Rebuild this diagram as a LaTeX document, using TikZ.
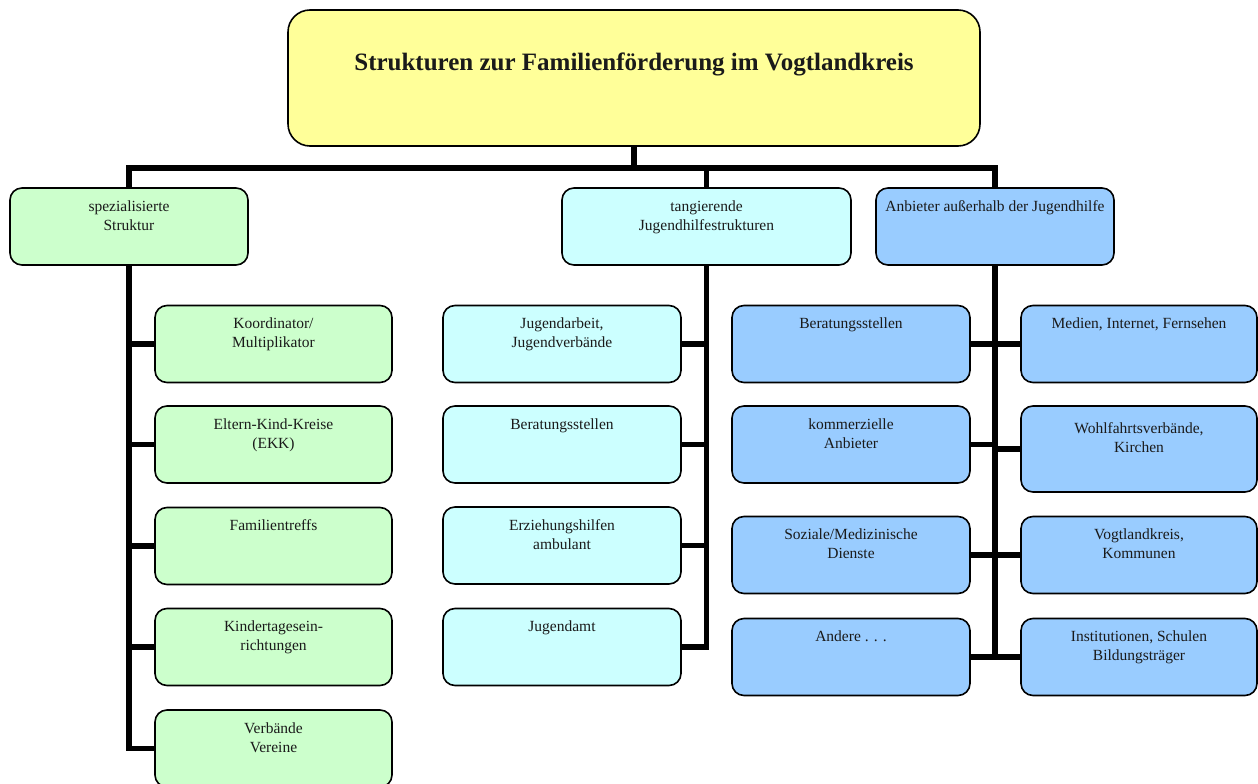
\documentclass[tikz,border=0pt]{standalone}
\usepackage{fontspec}
\setmainfont{Liberation Serif}
\usetikzlibrary{backgrounds}
\definecolor{ttlfill}{HTML}{FFFF99}
\definecolor{grfill}{HTML}{CCFFCC}
\definecolor{cyfill}{HTML}{CCFFFF}
\definecolor{blfill}{HTML}{99CCFF}
\definecolor{txtcol}{HTML}{1A1A1A}
\tikzset{
  boxbase/.style={draw=black, line width=1.6pt, rounded corners=12pt, inner sep=0pt, minimum height=77pt},
  gbox/.style={boxbase, fill=grfill, minimum width=237pt},
  cbox/.style={boxbase, fill=cyfill, minimum width=238pt},
  bbox/.style={boxbase, fill=blfill, minimum width=238pt},
  txt/.style={anchor=north, inner sep=0pt, align=center, text=txtcol, font=\fontsize{15.5}{19}\selectfont},
  conn/.style={draw=black, line width=5.5pt, line join=miter}
}
\begin{document}
\begin{tikzpicture}[x=1pt,y=-1pt]
\useasboundingbox (0,0) rectangle (1258,784);
\coordinate (bus) at (0,168);
% title
\node[draw=black, line width=1.6pt, rounded corners=22pt, fill=ttlfill, minimum width=692pt, minimum height=136pt, inner sep=0pt] (title) at (634,78) {};
\node[anchor=north, inner sep=0pt, text=txtcol, font=\fontsize{25}{30}\selectfont\bfseries] (titlet) at ([yshift=-43pt]title.north) {Strukturen zur Familienförderung im Vogtlandkreis};
% group boxes
\node[gbox, minimum width=238pt] (g1) at (129,226.5) {};
\node[txt] (g1t) at ([yshift=-13pt]g1.north) {spezialisierte\\Struktur};
\node[cbox, minimum width=289pt] (g2) at (706.5,226.5) {};
\node[txt] (g2t) at ([yshift=-13pt]g2.north) {tangierende\\Jugendhilfestrukturen};
\node[bbox] (g3) at (995,226.5) {};
\node[txt] (g3t) at ([yshift=-13pt]g3.north) {Anbieter außerhalb der Jugendhilfe};
% left children
\node[gbox] (k1) at (273.5,344) {};
\node[txt] (k1t) at ([yshift=-13pt]k1.north) {Koordinator/\\Multiplikator};
\node[gbox] (k2) at (273.5,444.5) {};
\node[txt] (k2t) at ([yshift=-13pt]k2.north) {Eltern-Kind-Kreise\\(EKK)};
\node[gbox] (k3) at (273.5,546) {};
\node[txt] (k3t) at ([yshift=-13pt]k3.north) {Familientreffs};
\node[gbox] (k4) at (273.5,647) {};
\node[txt] (k4t) at ([yshift=-13pt]k4.north) {Kindertagesein-\\richtungen};
\node[gbox] (k5) at (273.5,748.5) {};
\node[txt] (k5t) at ([yshift=-13pt]k5.north) {Verbände\\Vereine};
% middle children
\node[cbox] (m1) at (562,344) {};
\node[txt] (m1t) at ([yshift=-13pt]m1.north) {Jugendarbeit,\\Jugendverbände};
\node[cbox] (m2) at (562,444.5) {};
\node[txt] (m2t) at ([yshift=-13pt]m2.north) {Beratungsstellen};
\node[cbox] (m3) at (562,545.5) {};
\node[txt] (m3t) at ([yshift=-13pt]m3.north) {Erziehungshilfen\\ambulant};
\node[cbox] (m4) at (562,647) {};
\node[txt] (m4t) at ([yshift=-13pt]m4.north) {Jugendamt};
% right, left column
\node[bbox] (a1) at (851,344) {};
\node[txt] (a1t) at ([yshift=-13pt]a1.north) {Beratungsstellen};
\node[bbox] (a2) at (851,444.5) {};
\node[txt] (a2t) at ([yshift=-13pt]a2.north) {kommerzielle\\Anbieter};
\node[bbox] (a3) at (851,555) {};
\node[txt] (a3t) at ([yshift=-13pt]a3.north) {Soziale/Medizinische\\Dienste};
\node[bbox] (a4) at (851,657) {};
\node[txt] (a4t) at ([yshift=-13pt]a4.north) {Andere . . .};
% right, right column
\node[bbox, minimum width=236pt] (b1) at (1139,344) {};
\node[txt] (b1t) at ([yshift=-13pt]b1.north) {Medien, Internet, Fernsehen};
\node[bbox, minimum width=236pt, minimum height=86pt] (b2) at (1139,449) {};
\node[txt] (b2t) at ([yshift=-17pt]b2.north) {Wohlfahrtsverbände,\\Kirchen};
\node[bbox, minimum width=236pt] (b3) at (1139,555) {};
\node[txt] (b3t) at ([yshift=-13pt]b3.north) {Vogtlandkreis,\\Kommunen};
\node[bbox, minimum width=236pt] (b4) at (1139,657) {};
\node[txt] (b4t) at ([yshift=-13pt]b4.north) {Institutionen, Schulen\\Bildungsträger};
% connectors
\begin{pgfonlayer}{background}
\draw[conn] (title.south) -- (title.south |- bus);
\draw[conn] (g1.north) -- (g1.north |- bus) -- (g3.north |- bus) -- (g3.north);
\draw[conn] (g2.north) -- (g2.north |- bus);
\draw[conn] (g1.south) -- (g1.south |- k5.west) -- (k5.west);
\foreach \n in {k1,k2,k3,k4} \draw[conn] (\n.west) -- (\n.west -| g1.south);
\draw[conn] (g2.south) -- (g2.south |- m4.east) -- (m4.east);
\foreach \n in {m1,m2,m3} \draw[conn] (\n.east) -- (\n.east -| g2.south);
\draw[conn] (g3.south) -- (g3.south |- a4.east);
\foreach \n in {a1,a2,a3,a4} \draw[conn] (\n.east) -- (\n.east -| g3.south);
\foreach \n in {b1,b2,b3,b4} \draw[conn] (\n.west) -- (\n.west -| g3.south);
\end{pgfonlayer}
\end{tikzpicture}
\end{document}
